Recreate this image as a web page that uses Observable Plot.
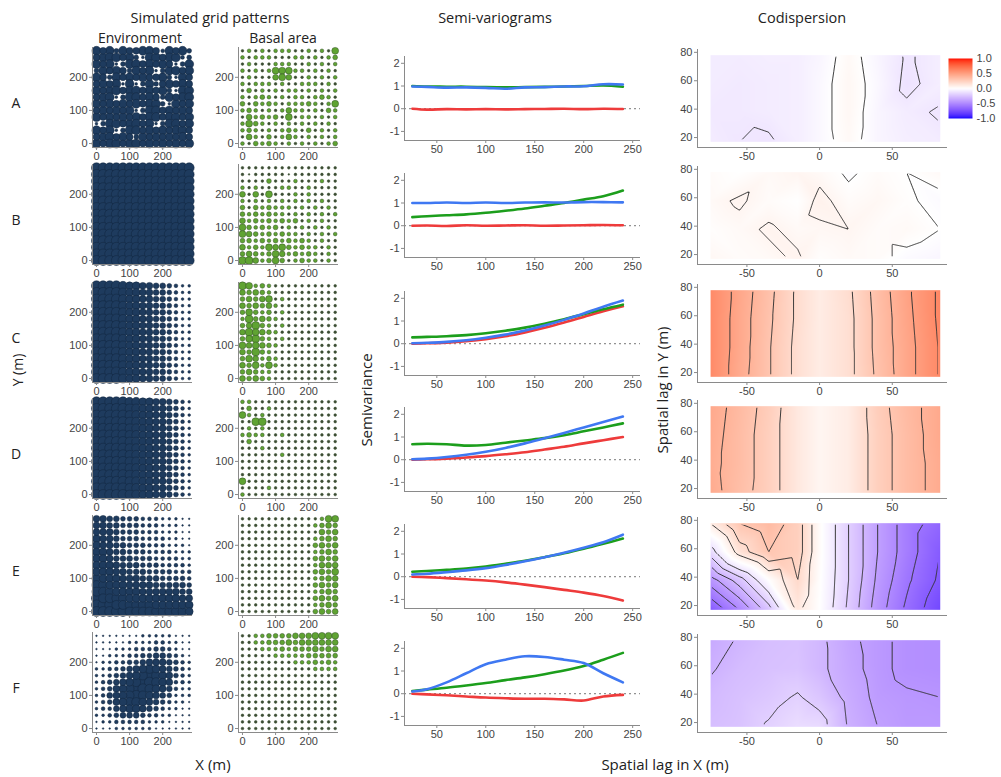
<!DOCTYPE html>
<html><head><meta charset="utf-8">
<script src="https://cdn.jsdelivr.net/npm/d3@7"></script>
<script src="https://cdn.jsdelivr.net/npm/@observablehq/plot@0.6"></script>
<style>
body{margin:0;background:#fff;}
#root{position:relative;width:1001px;height:777px;overflow:hidden;}
.t{position:absolute;white-space:nowrap;color:#222;font-family:"Open Sans",sans-serif;font-size:14px;line-height:1;}
.p{position:absolute;}
.clipc{clip-path:inset(2px);}
</style></head><body><div id="root"></div><script>
// ---------- data ----------
const rowLabels = ["A","B","C","D","E","F"];
const gridXY = [0,20,40,60,80,100,120,140,160,180,200,220,240,260,280];
const gridTicks = [0,100,200];

// Environment size levels (rows from y=280 down to y=0; columns x=0..280)
const envA = ["868486688638684","688868428868834","868248868686248","486864868248868","864868686684286",
"686828248468686","868868868684288","688248868648688","868686868842868","686868248868686",
"868686868868868","248868868248868","868248868686886","688686486868686","868868868686868"];
const envB = Array(15).fill("999999999999999");
const envC = Array(15).fill("999987766554322");
const envD = Array(15).fill("999998877665432");
const envE = ["665544433322211","665544433322211","666544433322211","766544433332211","766554443332221",
"776554443333222","776555444333322","777655544433332","777665554444333","877766655544443",
"887776666555554","888777766666655","988887777777766","999888888777777","999998888888887"];
const envF = ["111111122222111","111112222332211","111222333443211","112223344554321","122334456665432",
"223345678765432","223456789876432","234567899876332","234678998765322","235678987654222",
"234678876543221","233567765432211","223455543322111","122333332221111","111222222111111"];

// Basal area size levels
const basA = ["232323332232326","323332223323234","232223332232323","323236663323232","232225652232323",
"323332322333232","242323233232323","323432323323432","424343233343236","343232353323243",
"253434262332323","364323232323232","343232343242323","253242353232323","324343232323234"];
const basB = ["222222222222222","212222212222222","222242223222322","323222332232222","525262223232222",
"323232323232322","424343332323232","434343323232323","534343434232322","643434232323232",
"654343433232323","443434343432322","534365643433232","454346534343232","775346423433232"];
const basC = ["763432222222222","545432222222222","454562322222222","545453222222222","464342322222222",
"374543222222222","457432322222222","576543222222222","467432322222222","656543222222222",
"547432222222222","465343222222222","546363222222222","454332222222222","545432222222222"];
const basD = ["332222222222222","242232222222222","632322222222222","227722222222222","232322222222222",
"343322322222222","242222222222222","222322222222222","222222322222222","222222222222222",
"222222222222222","222222222222222","622222222222222","222232222222222","322222222222222"];
const basE = ["222222222222366","222222222223454","222222222222545","222222222223454","222222222224545",
"222222222223454","222222222224545","222222222223555","222222222224546","222222222223455",
"222222222224545","222222222223454","222222222224545","222222222223454","222222222224545"];
const basF = ["223344445556666","223344454555555","222333434445455","222223333344444","222222223334343",
"222222222223333","222222222222222","222222222222222","222222222222222","222222222222222",
"222222222222222","222222222222222","222222222222222","222222222222222","222222222222222"];

// Semi-variograms
const svX = [25,40,60,80,100,120,140,160,180,200,220,240];
const svTicksX = [50,100,150,200,250];
const svTicksY = [-1,0,1,2];
const svRed = [
 [0,-0.04,-0.02,-0.03,-0.02,-0.03,-0.02,-0.01,0,-0.02,0,-0.01],
 [0,0.01,-0.01,0.02,0,0.01,0.02,0,0.01,0.02,0.03,0.02],
 [0,0.02,0.05,0.11,0.2,0.33,0.5,0.7,0.93,1.18,1.43,1.65],
 [0,0.02,0.05,0.1,0.16,0.24,0.33,0.45,0.57,0.72,0.86,1.0],
 [0,-0.02,-0.06,-0.11,-0.17,-0.25,-0.35,-0.46,-0.58,-0.7,-0.85,-1.05],
 [0,-0.03,-0.07,-0.12,-0.17,-0.2,-0.22,-0.22,-0.25,-0.3,-0.12,-0.05]];
const svGreen = [
 [1.0,0.98,0.97,0.97,0.95,0.94,0.95,0.96,0.98,1.0,1.02,0.97],
 [0.38,0.42,0.46,0.5,0.57,0.66,0.76,0.88,1.0,1.15,1.3,1.55],
 [0.28,0.3,0.33,0.38,0.46,0.57,0.71,0.88,1.08,1.3,1.52,1.72],
 [0.68,0.7,0.68,0.62,0.65,0.75,0.85,0.95,1.08,1.25,1.42,1.6],
 [0.22,0.25,0.3,0.36,0.45,0.57,0.7,0.86,1.03,1.23,1.45,1.68],
 [0.12,0.18,0.26,0.36,0.47,0.6,0.72,0.86,1.02,1.22,1.5,1.8]];
const svBlue = [
 [0.98,0.96,0.93,0.94,0.92,0.88,0.94,0.95,0.98,0.99,1.08,1.07],
 [1.0,1.0,1.02,1.0,1.02,1.0,1.02,1.03,1.02,1.04,1.04,1.03],
 [0.02,0.04,0.08,0.15,0.26,0.4,0.58,0.8,1.05,1.33,1.63,1.9],
 [0.02,0.05,0.12,0.22,0.35,0.52,0.72,0.95,1.18,1.42,1.66,1.9],
 [0.1,0.13,0.2,0.28,0.38,0.52,0.68,0.86,1.06,1.28,1.52,1.85],
 [0.1,0.2,0.5,0.9,1.3,1.5,1.65,1.62,1.5,1.35,0.9,0.5]];

// Codispersion (rows y = 78, 58, 38, 17; columns at cdX)
const cdX = [-75,-55,-35,-15,0,20,40,60,83];
const cdY = [78,58,38,17];
const cdTicksX = [-50,0,50];
const cdTicksY = [20,40,60,80];
const cdA = [[-0.08,-0.08,-0.07,-0.07,-0.04,0.03,-0.04,-0.11,-0.07],
 [-0.08,-0.09,-0.08,-0.07,-0.03,0.04,-0.03,-0.12,-0.07],
 [-0.09,-0.09,-0.08,-0.07,-0.03,0.04,-0.04,-0.08,-0.11],
 [-0.08,-0.1,-0.11,-0.07,-0.03,0.03,-0.04,-0.07,-0.08]];
const cdB = [[0.02,0.0,0.03,0.05,0.03,-0.01,0.02,0.0,0.03],
 [0.03,0.06,0.02,0.0,0.07,0.02,0.04,0.01,-0.02],
 [0.01,0.03,0.06,0.03,0.04,0.05,0.02,0.03,0.0],
 [0.04,0.02,0.03,0.06,0.01,0.03,0.02,-0.02,-0.04]];
const cdC = [[0.6,0.46,0.33,0.18,0.1,0.18,0.34,0.48,0.62],
 [0.6,0.45,0.32,0.18,0.1,0.17,0.33,0.47,0.62],
 [0.6,0.45,0.31,0.17,0.1,0.17,0.33,0.46,0.61],
 [0.6,0.44,0.31,0.17,0.1,0.17,0.32,0.46,0.61]];
const cdD = [[0.45,0.36,0.26,0.12,0.05,0.1,0.26,0.36,0.45],
 [0.44,0.35,0.25,0.12,0.05,0.1,0.25,0.35,0.45],
 [0.43,0.35,0.25,0.12,0.05,0.1,0.25,0.35,0.44],
 [0.44,0.34,0.25,0.12,0.05,0.1,0.25,0.35,0.44]];
const cdE = [[0.1,0.3,0.36,0.25,0.02,-0.2,-0.4,-0.55,-0.65],
 [-0.15,0.15,0.3,0.25,0.02,-0.2,-0.4,-0.55,-0.7],
 [-0.45,-0.25,0.0,0.2,0.01,-0.2,-0.42,-0.58,-0.72],
 [-0.7,-0.5,-0.25,0.12,0.0,-0.22,-0.45,-0.62,-0.78]];
const cdF = [[-0.36,-0.31,-0.27,-0.26,-0.3,-0.38,-0.43,-0.47,-0.48],
 [-0.33,-0.28,-0.26,-0.25,-0.3,-0.37,-0.43,-0.47,-0.48],
 [-0.29,-0.26,-0.23,-0.19,-0.24,-0.35,-0.42,-0.44,-0.45],
 [-0.27,-0.25,-0.19,-0.14,-0.15,-0.33,-0.4,-0.43,-0.43]];
const cdLevels = [[-0.1,0],[0,0.05],[0.2,0.3,0.4,0.5,0.6],[0.2,0.3,0.4],
 [-0.7,-0.6,-0.5,-0.4,-0.3,-0.2,-0.1,0.1,0.2,0.3],[-0.45,-0.4,-0.32,-0.2]];
const legendTicks = [-1,-0.5,0,0.5,1];

const envGrids = [envA,envB,envC,envD,envE,envF];
const basGrids = [basA,basB,basC,basD,basE,basF];
const cdGrids = [cdA,cdB,cdC,cdD,cdE,cdF];

// ---------- layout ----------
const root = document.getElementById("root");
const rowTop = [47,164,282,398,515,632];
const axisStyle = {fontFamily:"'Liberation Sans',Arial,sans-serif", fontSize:"11px", color:"#444", background:"transparent", overflow:"visible"};
const axisColor = "#8a8a8a";
const colorScale = {type:"linear", domain:[-1,0,1], range:["#0000ff","#ffffff","#ff0000"], interpolate:"lab"};
const fmt = d => String(d);

function place(node, left, top){ node.classList.add("p"); node.style.left = left+"px"; node.style.top = top+"px"; root.appendChild(node); }
function text(s, x, y, opts={}){
  const d = document.createElement("div"); d.className = "t"; d.textContent = s;
  d.style.left = x+"px"; d.style.top = y+"px";
  if (opts.size) d.style.fontSize = opts.size+"px";
  let tr = "translate(-50%,-50%)"; if (opts.rotate) tr += " rotate(-90deg)";
  d.style.transform = tr; root.appendChild(d);
}
function gridData(g){
  const out = [];
  g.forEach((s,i)=>{ for (let j=0;j<s.length;j++) out.push({x:gridXY[j], y:gridXY[gridXY.length-1-i], s:+s[j]}); });
  return out;
}
function gridPlot(g, fill, stroke){
  return Plot.plot({
    width:140, height:128, marginLeft:30, marginRight:10, marginTop:6, marginBottom:22,
    style: axisStyle,
    x:{domain:[-12,290], label:null}, y:{domain:[-12,290], label:null},
    r:{type:"linear", domain:[0,9], range:[0.3,5]},
    marks:[
      Plot.dot(gridData(g), {x:"x", y:"y", r:"s", fill, stroke, strokeWidth:0.5}),
      Plot.ruleX([-12], {stroke:axisColor}),
      Plot.ruleY([-12], {stroke:axisColor}),
      Plot.axisX({ticks:gridTicks, tickSize:3, tickPadding:2, label:null, stroke:axisColor}),
      Plot.axisY({ticks:gridTicks, tickSize:3, tickPadding:2, label:null, stroke:axisColor})
    ]
  });
}
function svPlot(k){
  const mk = arr => svX.map((x,i)=>({x, y:arr[i]}));
  return Plot.plot({
    width:266, height:110, marginLeft:22, marginRight:8, marginTop:4, marginBottom:22,
    style: axisStyle,
    x:{domain:[17,258], label:null}, y:{domain:[-1.4,2.3], label:null},
    marks:[
      Plot.ruleY([0], {stroke:"#777", strokeDasharray:"2,3"}),
      Plot.line(mk(svRed[k]), {x:"x", y:"y", stroke:"#ee3b3b", strokeWidth:2.6, curve:"catmull-rom"}),
      Plot.line(mk(svGreen[k]), {x:"x", y:"y", stroke:"#1c9e1c", strokeWidth:2.6, curve:"catmull-rom"}),
      Plot.line(mk(svBlue[k]), {x:"x", y:"y", stroke:"#3f78f2", strokeWidth:2.6, curve:"catmull-rom"}),
      Plot.ruleX([17], {stroke:axisColor}),
      Plot.ruleY([-1.4], {stroke:axisColor}),
      Plot.axisX({ticks:svTicksX, tickSize:3, tickPadding:2, label:null, stroke:axisColor, tickFormat:fmt}),
      Plot.axisY({ticks:svTicksY, tickSize:3, tickPadding:2, label:null, stroke:axisColor, tickFormat:fmt})
    ]
  });
}
// codispersion panel geometry
const cdW = 282, cdH = 126, cdML = 26, cdMR = 6, cdMT = 6, cdMB = 22;
const cdDomX = [-84,88], cdDomY = [13,82];
function cdPoints(k){
  const pts = [];
  cdGrids[k].forEach((row,i)=>row.forEach((v,j)=>pts.push({x:cdX[j], y:cdY[i], v})));
  return pts;
}
const cdExt = {x1:cdX[0], x2:cdX[cdX.length-1], y1:cdY[cdY.length-1], y2:cdY[0]};
function cdPlot(k){
  return Plot.plot({
    width:cdW, height:cdH, marginLeft:cdML, marginRight:cdMR, marginTop:cdMT, marginBottom:cdMB,
    style: axisStyle,
    x:{domain:cdDomX, label:null}, y:{domain:cdDomY, label:null},
    color: colorScale,
    marks:[
      Plot.raster(cdPoints(k), {x:"x", y:"y", fill:"v", interpolate:"barycentric", ...cdExt}),
      Plot.ruleX([cdDomX[0]], {stroke:axisColor}),
      Plot.ruleY([cdDomY[0]], {stroke:axisColor}),
      Plot.axisX({ticks:cdTicksX, tickSize:3, tickPadding:2, label:null, stroke:axisColor, tickFormat:fmt}),
      Plot.axisY({ticks:cdTicksY, tickSize:3, tickPadding:2, label:null, stroke:axisColor, tickFormat:fmt})
    ]
  });
}
// contour overlay whose frame is exactly the heat-map extent; its edges are clipped away
const sx = d3.scaleLinear(cdDomX, [cdML, cdW - cdMR]);
const sy = d3.scaleLinear(cdDomY, [cdH - cdMB, cdMT]);
function cdContour(k){
  const w = sx(cdExt.x2) - sx(cdExt.x1), h = sy(cdExt.y1) - sy(cdExt.y2);
  const svg = Plot.plot({
    width:w, height:h, margin:0,
    style:{background:"transparent", overflow:"hidden"},
    x:{domain:[cdExt.x1, cdExt.x2], axis:null}, y:{domain:[cdExt.y1, cdExt.y2], axis:null},
    marks:[
      Plot.contour(cdPoints(k), {x:"x", y:"y", value:"v", interpolate:"barycentric", pixelSize:1,
        ...cdExt, thresholds:cdLevels[k], stroke:"#333", strokeWidth:1, fill:"none"})
    ]
  });
  svg.classList.add("clipc");
  return {svg, dx: sx(cdExt.x1), dy: sy(cdExt.y2)};
}

rowLabels.forEach((lab,k)=>{
  const t = rowTop[k];
  place(gridPlot(envGrids[k], "#1e3b5e", "#13273f"), 62, t-6);
  place(gridPlot(basGrids[k], d => d.s <= 2 ? "#3e4a36" : "#5fa332", "#35502a"), 208, t-6);
  place(svPlot(k), 382, t+9-4);
  const top4 = t+2-6;
  place(cdPlot(k), 671, top4);
  const c = cdContour(k);
  place(c.svg, 671 + c.dx, top4 + c.dy);
  text(lab, 16, t+56, {size:14});
});

// color legend
const leg = Plot.plot({
  width:60, height:72, marginLeft:2, marginRight:34, marginTop:6, marginBottom:6,
  style: axisStyle,
  x:{domain:[0,1], axis:null}, y:{domain:[-1,1], label:null},
  color: colorScale,
  marks:[
    Plot.raster({fill:(x,y)=>y, x1:0, x2:1, y1:-1, y2:1}),
    Plot.axisY({anchor:"right", ticks:legendTicks, tickFormat:d=>d.toFixed(1), tickSize:2, tickPadding:2, label:null, stroke:"#fff"})
  ]
});
place(leg, 946, 52);

// titles
text("Simulated grid patterns", 210, 18, {size:14.5});
text("Environment", 140, 38, {size:14});
text("Basal area", 283, 38, {size:14});
text("Semi-variograms", 495, 18, {size:14.5});
text("Codispersion", 802, 18, {size:14.5});
text("Y (m)", 18, 370, {size:14, rotate:true});
text("X (m)", 213, 764, {size:15});
text("Semivariance", 366, 400, {size:15, rotate:true});
text("Spatial lag in X (m)", 665, 764, {size:15});
text("Spatial lag in Y (m)", 662, 390, {size:15, rotate:true});
</script></body></html>
